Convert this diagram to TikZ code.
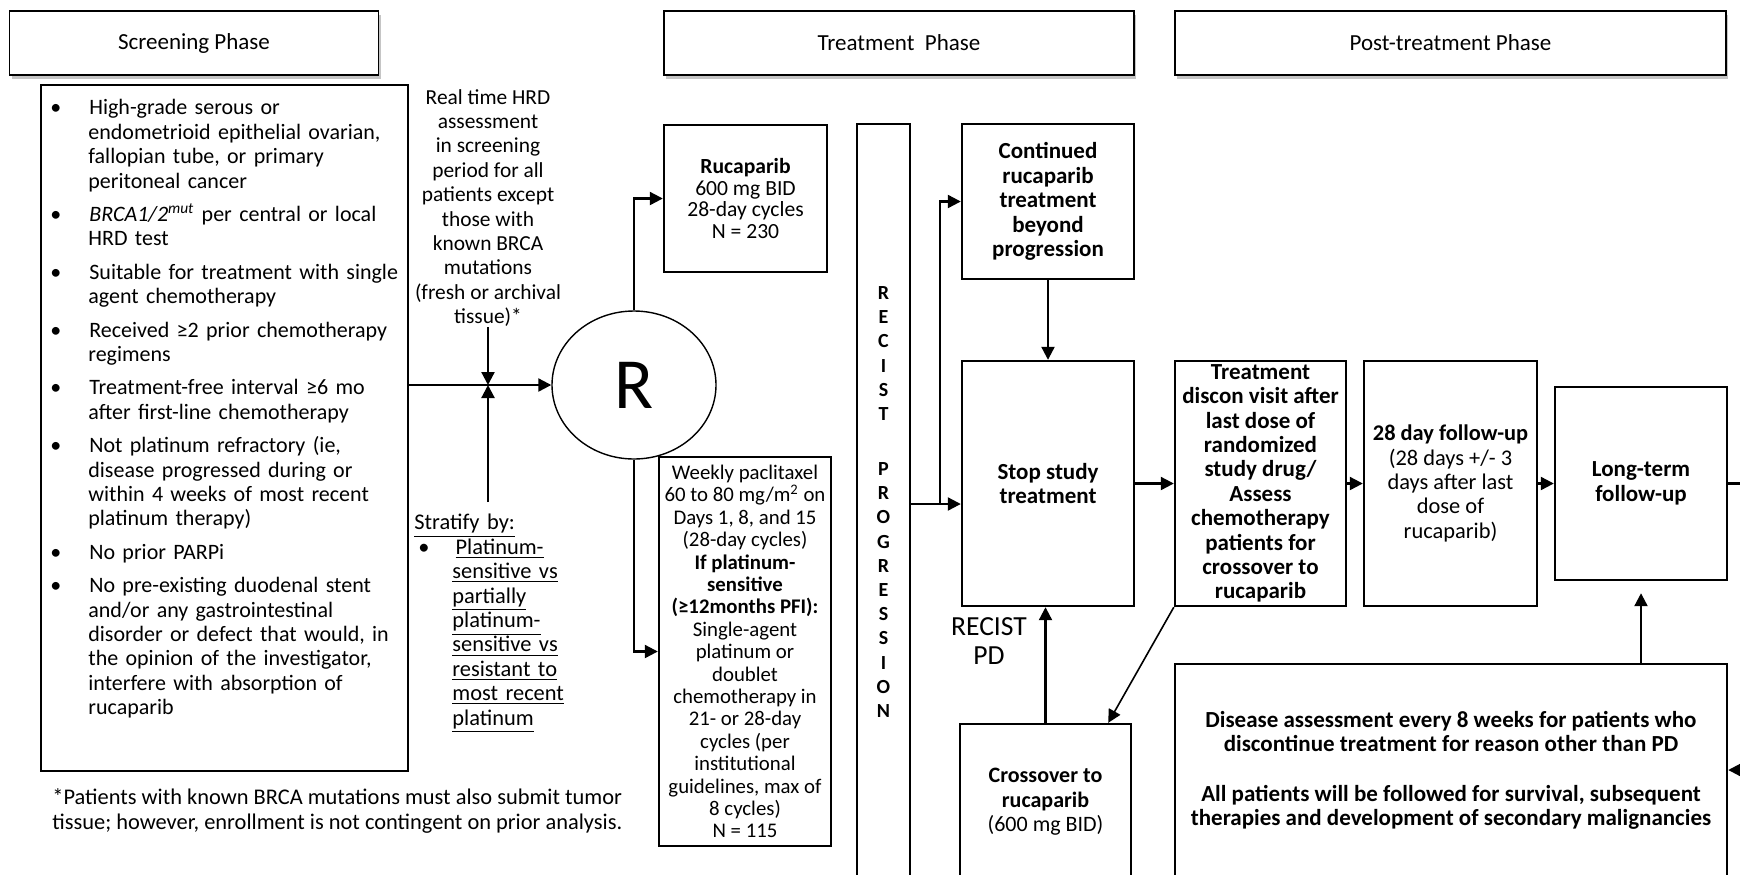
\documentclass[tikz,border=0pt]{standalone}
\usepackage{fontspec}
\setmainfont{Carlito}
\usepackage{enumitem}
\usetikzlibrary{shapes,arrows.meta,shadows}

\begin{document}
\begin{tikzpicture}[x=0.5pt,y=-0.5pt]
	\useasboundingbox (0,0) rectangle (1740,874);
	\clip (0,0) rectangle (1740,874);
		\begin{scope}
			[
				styleHead/.style={
					draw, line width=0.8pt, fill=white,
					minimum height=32pt, inner sep=0pt,
					drop shadow={shadow xshift=1.2pt, shadow yshift=-1.8pt, fill=black!45},
					font=\fontsize{11.5}{13}\selectfont
					},
				styleBox/.style={draw, line width=1.2pt, inner sep=0pt, align=center, font=\fontsize{11}{12.2}\selectfont},
				styleBold/.style={styleBox, font=\bfseries\fontsize{11.5}{12.2}\selectfont},
				styleText/.style={inner sep=0pt, align=center, font=\fontsize{10.7}{12.2}\selectfont},
			]
			\node(hdScreen)[styleHead, minimum width=184.5pt] at (194,43) {Screening Phase};
			\node(hdTreat)[styleHead, minimum width=235pt] at (899,43) {Treatment\ \ Phase};
			\node(hdPost)[styleHead, minimum width=275.5pt] at (1450.5,43) {Post-treatment Phase};

			\node(crit)[styleBox, minimum width=183.5pt, minimum height=343pt] at (224.5,428) {};
			\node(critList)[anchor=north west, text width=178pt, inner sep=0pt, font=\fontsize{11}{12.2}\selectfont] at (50,90) {%
				\begin{itemize}[label=\textbullet, nosep, itemsep=4.5pt, labelindent=0pt, labelwidth=5pt, labelsep=14pt, leftmargin=19pt, align=left]
					\item High-grade serous or\newline endometrioid epithelial ovarian,\newline fallopian tube, or primary\newline peritoneal cancer
					\item \textit{BRCA1/2}\textsuperscript{\textit{mut}} per central or local\newline HRD test
					\item Suitable for treatment with single\newline agent chemotherapy
					\item Received ≥2 prior chemotherapy\newline regimens
					\item Treatment-free interval ≥6 mo\newline after first-line chemotherapy
					\item Not platinum refractory (ie,\newline disease progressed during or\newline within 4 weeks of most recent\newline platinum therapy)
					\item No prior PARPi
					\item No pre-existing duodenal stent\newline and/or any gastrointestinal\newline disorder or defect that would, in\newline the opinion of the investigator,\newline interfere with absorption of\newline rucaparib
				\end{itemize}};
			\node(note)[styleText, anchor=west, align=left, font=\fontsize{11.2}{12.2}\selectfont] at (52,811) {*Patients with known BRCA mutations must also submit tumor\\tissue; however, enrollment is not contingent on prior analysis.};

			\node(hrd)[styleText] at (488,208) {Real time HRD\\assessment\\in screening\\period for all\\patients except\\those with\\known BRCA\\mutations\\(fresh or archival\\tissue)*};
			\node(strat)[anchor=north west, text width=100pt, inner sep=0pt, font=\fontsize{11.2}{12.2}\selectfont] at (414,514) {%
				\underline{Stratify by:}
				\begin{itemize}[label=\textbullet, nosep, labelindent=2pt, labelwidth=4pt, labelsep=13pt, leftmargin=19pt, align=left]
					\item \underline{Platinum-}\newline\underline{sensitive vs}\newline\underline{partially}\newline\underline{platinum-}\newline\underline{sensitive vs}\newline\underline{resistant to}\newline\underline{most recent}\newline\underline{platinum}
				\end{itemize}};
			\coordinate(jn) at (488,385);
			\coordinate(strTop) at (488,502);

			\node(rnd)[ellipse, draw, line width=0.7pt, minimum width=82pt, minimum height=74pt, inner sep=0pt, font=\fontsize{36}{36}\selectfont] at (634,385) {R};

			\node(ruca)[styleBox, minimum width=81.5pt, minimum height=73.5pt, font=\fontsize{10.8}{10.7}\selectfont] at (745.5,198.5) {\textbf{Rucaparib}\\600 mg BID\\28-day cycles\\N = 230};
			\node(pacl)[styleBox, minimum width=86pt, minimum height=194.5pt, font=\fontsize{10.4}{11.2}\selectfont] at (745,651.5) {Weekly paclitaxel\\60 to 80 mg/m\textsuperscript{2} on\\Days 1, 8, and 15\\(28-day cycles)\\\textbf{If platinum-}\\\textbf{sensitive}\\\textbf{(≥12months PFI):}\\Single-agent\\platinum or\\doublet\\chemotherapy in\\21- or 28-day\\cycles (per\\institutional\\guidelines, max of\\8 cycles)\\N = 115};

			\node(col)[styleBox, minimum width=26.5pt, minimum height=378pt, font=\bfseries\fontsize{10}{12.1}\selectfont] at (883.5,502) {R\\E\\C\\I\\S\\T\\[15.4pt]P\\R\\O\\G\\R\\E\\S\\S\\I\\O\\N};
			\coordinate(brk) at (940,504);

			\node(cont)[styleBold, minimum width=86pt, minimum height=77.5pt] at (1048,201.5) {Continued\\rucaparib\\treatment\\beyond\\progression};
			\node(stop)[styleBold, minimum width=86pt, minimum height=122.5pt] at (1048,483.5) {Stop study\\treatment};
			\node(pdLbl)[styleText, font=\fontsize{13.8}{14.4}\selectfont] at (989,641) {RECIST\\PD};
			\node(cross)[styleBox, minimum width=85.5pt, minimum height=78pt] at (1045.5,802) {\textbf{Crossover to}\\\textbf{rucaparib}\\(600 mg BID)};

			\node(disc)[styleBold, minimum width=85.5pt, minimum height=122.5pt] at (1260.5,483.5) {Treatment\\discon visit after\\last dose of\\randomized\\study drug/\\Assess\\chemotherapy\\patients for\\crossover to\\rucaparib};
			\node(fu28)[styleBox, minimum width=86.5pt, minimum height=122.5pt, font=\fontsize{11.2}{12.2}\selectfont] at (1450.5,483.5) {\textbf{28 day follow-up}\\(28 days +/- 3\\days after last\\dose of\\rucaparib)};
			\node(ltfu)[styleBold, minimum width=86pt, minimum height=96.5pt] at (1641,483.5) {Long-term\\follow-up};
			\node(dis)[styleBold, minimum width=276pt, minimum height=106pt, font=\bfseries\fontsize{11.5}{12}\selectfont] at (1451,770) {Disease assessment every 8 weeks for patients who\\discontinue treatment for reason other than PD\\[13pt]All patients will be followed for survival, subsequent\\therapies and development of secondary malignancies};
			\coordinate(outR) at (1745,483.5);
			\coordinate(outR2) at (1745,770);
		\end{scope}

		\begin{scope}
			[ >={Triangle[length=6.5pt,width=6.5pt]}, line width=1.1pt,
				elbow/.style={to path={|- (\tikztotarget)}}]
			\path
			(crit.east |- jn) edge[->]				(rnd)
			(hrd.south) edge[->]					(jn)
			(strTop) edge[->]						(jn)
			(rnd.north) edge[->, elbow]				(ruca)
			(rnd.south) edge[->, elbow]				(pacl)
			(col.east |- brk) edge[->]				(stop.west |- brk)
			(brk) edge[->, elbow]					(cont)
			(cont) edge[->]							(stop)
			(stop) edge[->]							(disc)
			(disc) edge[->]							(fu28)
			(fu28) edge[->]							(ltfu)
			(ltfu) edge								(outR)
			(outR2) edge[->]						(dis)
			(ltfu.south |- dis.north) edge[->, shorten >=6pt]	(ltfu.south)
			(cross.north) edge[->]					(cross.north |- stop.south)
			(disc.south west) edge[->, line width=0.8pt]	([xshift=-12pt]cross.north east);
		\end{scope}
	\end{tikzpicture}
\end{document}
